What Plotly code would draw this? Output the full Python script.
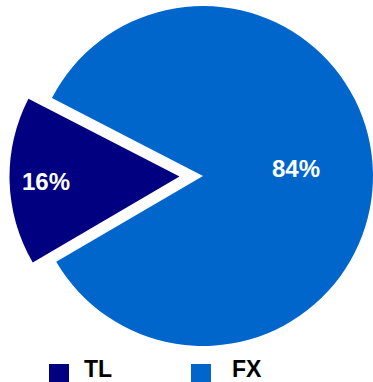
import math
import plotly.graph_objects as go

labels = ["TL", "FX"]
values = [16, 84]
colors = ["#000080", "#0066CC"]

W, H = 373, 382
total = sum(values)
pct = [f"{round(v / total * 100)}%" for v in values]

# geometry (pixels): FX circle centre, radius, pull distance of TL slice
R = 170.0
fx_c = (203.0, 176.0)
pull_px = 23.5
tilt = 1.5  # degrees the whole pie is turned anticlockwise

rotation = 270 - tilt - values[0] / total * 360 / 2
tl_mid = math.radians(rotation + values[0] / total * 360 / 2)
tl_c = (fx_c[0] + pull_px * math.sin(tl_mid), fx_c[1] - pull_px * math.cos(tl_mid))


def dom(c):
    return dict(x=[(c[0] - R) / W, (c[0] + R) / W],
                y=[1 - (c[1] + R) / H, 1 - (c[1] - R) / H])


transparent = "rgba(0,0,0,0)"

fig = go.Figure()
# FX slice (TL slot transparent)
fig.add_trace(go.Pie(
    labels=labels, values=values, sort=False, direction="clockwise",
    rotation=rotation, domain=dom(fx_c),
    marker=dict(colors=[transparent, colors[1]], line=dict(width=0)),
    textinfo="none", showlegend=False, hoverinfo="label+percent",
))
# TL slice (pulled out), FX slot transparent
fig.add_trace(go.Pie(
    labels=labels, values=values, sort=False, direction="clockwise",
    rotation=rotation, domain=dom(tl_c),
    marker=dict(colors=[colors[0], transparent], line=dict(width=0)),
    textinfo="none", showlegend=False, hoverinfo="label+percent",
))

# percentage labels placed along each slice's mid-angle
centres = [tl_c, fx_c]
frac = [0.785, 0.545]
dy = [1.5, -5.5]
annotations = []
start = rotation
for i, v in enumerate(values):
    span = v / total * 360
    mid = math.radians(start + span / 2)  # clockwise from 12 o'clock
    start += span
    cx, cy = centres[i]
    px = cx + frac[i] * R * math.sin(mid)
    py = cy - frac[i] * R * math.cos(mid) + dy[i]
    annotations.append(dict(xref="paper", yref="paper", x=px / W, y=1 - py / H,
                            xanchor="center", yanchor="middle", showarrow=False,
                            text=f"<b>{pct[i]}</b>",
                            font=dict(family="Liberation Sans, Arial", size=24, color="white")))

# custom legend at bottom
legend_sq_x = [49, 191]   # left edge of square, px
legend_txt_x = [82, 230]  # left edge of label box, px
shapes = []
for i, lab in enumerate(labels):
    x0 = legend_sq_x[i]
    shapes.append(dict(type="rect", xref="paper", yref="paper",
                       x0=x0 / W, x1=(x0 + 20) / W,
                       y0=1 - 384 / H, y1=1 - 364 / H,
                       fillcolor=colors[i], line=dict(width=0)))
    annotations.append(dict(xref="paper", yref="paper",
                            x=legend_txt_x[i] / W, y=1 - 368.5 / H,
                            xanchor="left", yanchor="middle", showarrow=False,
                            text=f"<b>{lab}</b>",
                            font=dict(family="Liberation Sans, Arial", size=23, color="black")))

fig.update_layout(
    width=W, height=H, margin=dict(l=0, r=0, t=0, b=0),
    paper_bgcolor="white", plot_bgcolor="white",
    shapes=shapes, annotations=annotations,
)

fig.write_html("out.html", config={"displayModeBar": False},
               post_script="document.body.style.margin='0';document.body.style.overflow='hidden';")
